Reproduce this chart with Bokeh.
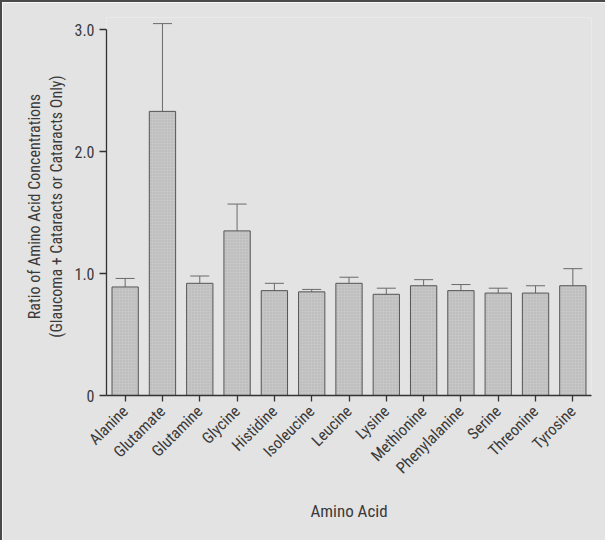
from bokeh.plotting import figure
from bokeh.models import ColumnDataSource, Whisker, TeeHead, Range1d, FactorRange
from bokeh.embed import file_html
from bokeh.resources import INLINE
import math

amino_acids = ["Alanine", "Glutamate", "Glutamine", "Glycine", "Histidine", "Isoleucine",
               "Leucine", "Lysine", "Methionine", "Phenylalanine", "Serine", "Threonine", "Tyrosine"]
ratios = [0.89, 2.33, 0.92, 1.35, 0.86, 0.85, 0.92, 0.83, 0.90, 0.86, 0.84, 0.84, 0.90]
upper_err = [0.96, 3.05, 0.98, 1.57, 0.92, 0.87, 0.97, 0.88, 0.95, 0.91, 0.88, 0.90, 1.04]
y_ticks = [0, 1, 2, 3]
y_tick_labels = {0: "0", 1: "1.0", 2: "2.0", 3: "3.0"}

FONT = "'Liberation Sans Narrow', 'Arial Narrow', 'Roboto Condensed', Roboto, sans-serif"
TXT = "#3a3a3a"
BG = "#e3e3e3"

src = ColumnDataSource(dict(x=amino_acids, top=ratios, upper=upper_err))

p = figure(width=605, height=540, output_backend="svg", toolbar_location=None,
           x_range=FactorRange(factors=amino_acids, range_padding=0),
           y_range=Range1d(0, 3.1),
           min_border_left=104, min_border_right=16, min_border_top=15, min_border_bottom=147,
           background_fill_color=BG, border_fill_color=BG,
           styles={"border-top": "2px solid #4a4a4a", "border-left": "2px solid #4a4a4a"})
p.outline_line_color = None
p.grid.visible = False

p.vbar(x="x", top="top", width=0.705, source=src, fill_color="#c6c6c6",
       line_color="#555555", line_width=1,
       hatch_pattern=".", hatch_color="#b0b0b0", hatch_scale=3, hatch_weight=1)

w = Whisker(source=src, base="x", lower="top", upper="upper",
            line_color="#6a6a6a", line_width=1,
            upper_head=TeeHead(size=19, line_color="#6a6a6a", line_width=1),
            lower_head=None)
p.add_layout(w)

p.yaxis.ticker = y_ticks
p.yaxis.major_label_overrides = y_tick_labels
p.yaxis.bounds = (0, 3)
p.yaxis.minor_tick_line_color = None
p.yaxis.major_tick_out = 7
p.yaxis.major_tick_in = 0
p.xaxis.major_tick_out = 6
p.xaxis.major_tick_in = 0

for ax in (p.xaxis, p.yaxis):
    ax.axis_line_color = "#333333"
    ax.axis_line_width = 1.3
    ax.major_tick_line_color = "#333333"
    ax.major_tick_line_width = 1.3
    ax.major_label_text_font = FONT
    ax.major_label_text_color = TXT
    ax.axis_label_text_font = FONT
    ax.axis_label_text_color = TXT
    ax.axis_label_text_font_style = "normal"

p.yaxis.major_label_text_font_size = "16px"
p.yaxis.major_label_standoff = 5
p.xaxis.major_label_text_font_size = "16px"
p.xaxis.major_label_orientation = math.pi / 4
p.xaxis.major_label_standoff = 7

p.yaxis.axis_label = "Ratio of Amino Acid Concentrations\n(Glaucoma + Cataracts or Cataracts Only)"
p.yaxis.axis_label_text_font_size = "16px"
p.yaxis.axis_label_standoff = 5
p.yaxis.axis_label_text_line_height = 1.2

p.xaxis.axis_label = "Amino Acid"
p.xaxis.axis_label_text_font_size = "17px"
p.xaxis.axis_label_standoff = 14

open("out.html", "w").write(file_html(p, INLINE))
